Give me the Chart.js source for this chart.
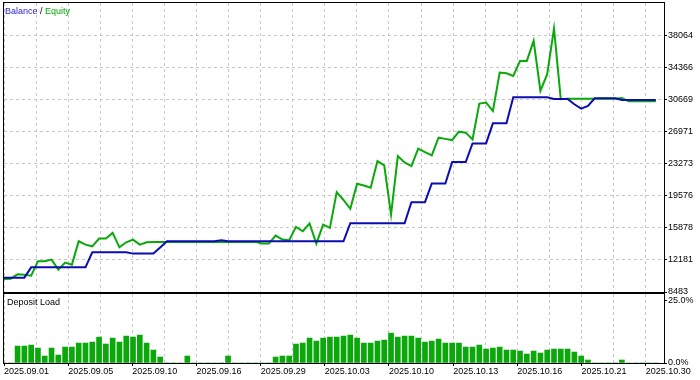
<!DOCTYPE html>
<html><head><meta charset="utf-8">
<script src="https://cdn.jsdelivr.net/npm/chart.js@4.4.1/dist/chart.umd.min.js"></script>
<style>
html,body{margin:0;padding:0;background:#fff;width:700px;height:380px;overflow:hidden}
#wrap{position:relative;width:700px;height:380px;background:#fff}
#c1{position:absolute;left:0;top:0}
#c2{position:absolute;left:0;top:293px}
.lbl{position:absolute;font:9px "Liberation Sans",Arial,sans-serif;white-space:nowrap;line-height:1}
</style></head><body>
<div id="wrap">
<canvas id="c1" width="700" height="294"></canvas>
<canvas id="c2" width="700" height="87"></canvas>
<div class="lbl" style="left:5px;top:7px"><span style="color:#1e1ed2">Balance</span><span style="color:#000"> / </span><span style="color:#00aa00">Equity</span></div>
<div class="lbl" style="left:7px;top:298px;color:#000">Deposit Load</div>
</div>
<script>
// ---- data (one value per deal index) ----
const balance = [
10133,10133,10133,10133,11322,11322,11322,11322,11322,11322,
11322,11322,11322,13053,13053,13053,13053,13053,13053,12903,
12903,12903,12903,13595,14322,14322,14322,14322,14322,14322,
14322,14322,14437,14322,14322,14322,14322,14322,14322,14322,
14322,14322,14322,14322,14322,14322,14322,14322,14322,14322,
14322,16399,16399,16399,16399,16399,16399,16399,16399,16399,
18823,18823,18823,20981,20981,20981,23439,23439,23439,25597,
25597,25597,27905,27905,27905,30905,30905,30905,30905,30905,
30905,30709,30709,30709,30097,29601,29901,30790,30790,30790,
30790,30594,30594,30594,30594,30594,30594
];
const equity = [
9983,10018,10514,10479,10364,12014,12037,12210,11056,11864,
11633,14322,13941,13745,14634,14634,15292,13630,14207,14518,
13941,14207,14253,14253,14253,14253,14253,14253,14253,14253,
14253,14253,14253,14253,14253,14253,14253,14253,14057,14057,
14980,14518,14438,15984,15476,16365,14057,16249,15869,19977,
19077,18061,20946,20750,20485,23554,23058,17403,24131,23404,
22977,24985,24593,24212,26255,26116,25978,26947,26832,26058,
30178,30294,29324,33756,33675,33363,35094,35094,37402,31632,
33559,38833,30674,30732,30732,30732,30732,30732,30732,30732,
30732,30824,30444,30444,30444,30444,30444
];
const depositLoad = [
0,0,6.8,6.8,7.2,6.0,2.8,6.0,3.2,6.4,
6.4,8.0,8.0,8.4,10.4,7.6,10.0,8.4,10.8,10.4,
11.2,8.0,5.2,2.4,0,0,0,2.8,0,0,
0,0,0,2.8,0,0,0,0,0,0,
2.4,2.8,2.8,7.6,8.0,10.0,8.8,10.0,10.4,10.4,
10.8,11.2,10.0,8.0,8.0,8.8,9.2,12.0,10.4,10.8,
10.8,10.0,8.4,8.8,9.6,8.0,8.0,8.0,6.4,6.4,
7.2,5.6,6.0,6.4,5.2,5.2,4.8,3.6,4.8,4.0,
5.2,5.6,5.6,5.6,4.4,2.8,1.2,0,0,0,
0,1.2,0,0,0,0,0
];
const dateLabels = ["2025.09.01","2025.09.05","2025.09.10","2025.09.16","2025.09.29","2025.10.03","2025.10.10","2025.10.13","2025.10.16","2025.10.21","2025.10.30"];
const balanceTicks = [8483,12181,15878,19576,23273,26971,30669,34366,38064];
const loadTicks = [0,25];

// ---- layout constants ----
const X_MAX = 97.2;          // index range visible in the plot
const GRID_STEP = 4.725;     // vertical grid spacing in index units
const GRID_COUNT = 21;
const Y_MIN = 8483, Y_MAX = 8483 + 9 * 3697.625;
const LOAD_MAX = 27.7;
const FONT = {family: '"Liberation Sans", Arial, sans-serif', size: 9};
const GRID_COLOR = '#c8c8c8';
const BLUE = '#0c0cb0', GREEN = '#0aa80a';

const gridValues = [];
for (let k = 0; k < GRID_COUNT; k++) gridValues.push(k * GRID_STEP);

function zeroPad(scale, w, h) {
  if (w !== undefined) scale.width = w;
  if (h !== undefined) scale.height = h;
  scale.paddingLeft = 0; scale.paddingRight = 0; scale.paddingTop = 0; scale.paddingBottom = 0;
}

const framePlugin = {
  id: 'frame',
  afterDraw(chart) {
    const {ctx, chartArea: a} = chart;
    ctx.save();
    ctx.strokeStyle = '#000';
    ctx.lineWidth = 1;
    ctx.setLineDash([]);
    ctx.strokeRect(Math.round(a.left) - 0.5, Math.round(a.top) - 0.5,
                   Math.round(a.right - a.left) + 1, Math.round(a.bottom - a.top) + 1);
    ctx.restore();
  }
};

function xScale(showLabels) {
  return {
    type: 'linear', min: 0, max: X_MAX, position: 'bottom', offset: false,
    afterBuildTicks(scale) { scale.ticks = gridValues.map(v => ({value: v})); },
    afterFit(scale) { zeroPad(scale, undefined, showLabels ? 17 : 0); },
    grid: {
      offset: false,
      color: GRID_COLOR, lineWidth: 1, drawTicks: showLabels, tickLength: 3,
      tickColor: (c) => (c.index % 2 === 0 ? '#000' : 'rgba(0,0,0,0)')
    },
    border: {display: false, dash: [3, 3]},
    ticks: {
      display: showLabels, autoSkip: false, maxRotation: 0, minRotation: 0,
      align: 'start', padding: 0, color: '#000', font: FONT,
      callback: (v, i) => (i % 2 === 0 ? (dateLabels[i / 2] || '') : '')
    }
  };
}

new Chart(document.getElementById('c1'), {
  type: 'line',
  data: {
    datasets: [
      {label: 'Balance', data: balance.map((v, i) => ({x: i, y: v})), borderColor: BLUE, borderWidth: 2, pointRadius: 0, tension: 0, fill: false},
      {label: 'Equity', data: equity.map((v, i) => ({x: i, y: v})), borderColor: GREEN, borderWidth: 2, pointRadius: 0, tension: 0, fill: false}
    ]
  },
  options: {
    responsive: false, animation: false, devicePixelRatio: 1,
    layout: {padding: {left: 4, top: 3, bottom: 2, right: 0}},
    plugins: {legend: {display: false}, tooltip: {enabled: false}},
    scales: {
      x: xScale(false),
      y: {
        type: 'linear', position: 'right', min: Y_MIN, max: Y_MAX,
        afterBuildTicks(scale) { scale.ticks = balanceTicks.map(v => ({value: v})); },
        afterFit(scale) { zeroPad(scale, 36); },
        grid: {color: GRID_COLOR, drawTicks: true, tickLength: 3, tickColor: '#000'},
        border: {display: false, dash: [3, 3]},
        ticks: {padding: 1, color: '#000', font: FONT, callback: (v) => String(v)}
      }
    }
  },
  plugins: [framePlugin]
});

new Chart(document.getElementById('c2'), {
  type: 'bar',
  data: {
    datasets: [
      {label: 'Deposit Load', data: depositLoad.map((v, i) => ({x: i, y: v})), backgroundColor: GREEN, borderWidth: 0, barThickness: 5}
    ]
  },
  options: {
    responsive: false, animation: false, devicePixelRatio: 1,
    layout: {padding: {left: 4, top: 1, bottom: 0, right: 0}},
    plugins: {legend: {display: false}, tooltip: {enabled: false}},
    scales: {
      x: xScale(true),
      y: {
        type: 'linear', position: 'right', min: 0, max: LOAD_MAX,
        afterBuildTicks(scale) { scale.ticks = loadTicks.map(v => ({value: v})); },
        afterFit(scale) { zeroPad(scale, 36); },
        grid: {drawOnChartArea: false, drawTicks: true, tickLength: 3, tickColor: '#000'},
        border: {display: false},
        ticks: {padding: 1, color: '#000', font: FONT, callback: (v) => v.toFixed(1) + '%'}
      }
    }
  },
  plugins: [framePlugin]
});
</script>
</body></html>
